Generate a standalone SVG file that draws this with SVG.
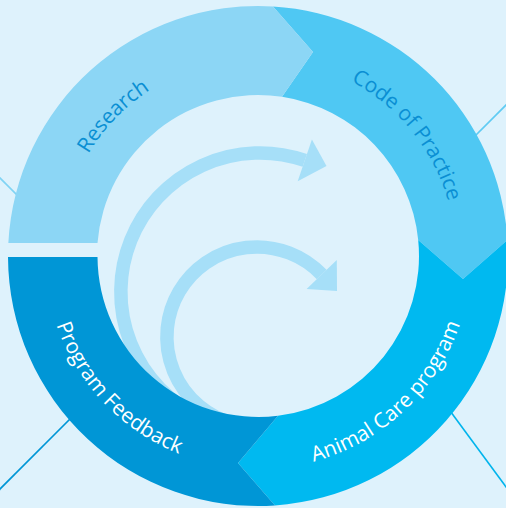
<svg xmlns="http://www.w3.org/2000/svg" width="506" height="508" viewBox="0 0 506 508">
  <style>
    .lbl { font-family: "Open Sans", "Noto Sans", "Liberation Sans", sans-serif; font-size: 21px; }
    .dark { fill: #0a8fd3; }
    .light { fill: #ffffff; }
    .arc { fill: none; stroke: #a6dff8; stroke-width: 13.5; }
    .head { fill: #a6dff8; }
    .ln { fill: none; stroke-width: 1.6; }
  </style>
  <defs>
    <path id="pResearch" d="M67.66,310.57 A198,198 0 0 1 305.90,63.88"/>
    <path id="pCode" d="M227.03,60.44 A198,198 0 0 1 442.85,326.96"/>
    <path id="pProgram" d="M53.78,195.51 A213,213 0 0 0 307.72,463.12"/>
    <path id="pAnimal" d="M196.78,460.01 A213,213 0 0 0 465.29,207.0"/>
  </defs>
  <rect x="0" y="0" width="506" height="508" fill="#def2fc"/>

  <g id="connectors">
    <line class="ln" x1="455" y1="156" x2="512" y2="99" stroke="#5fcbf3"/>
    <line class="ln" x1="-5" y1="173" x2="32" y2="210" stroke="#7fd3f4"/>
    <line class="ln" x1="-5" y1="494" x2="85" y2="404" stroke="#0096d6"/>
    <line class="ln" x1="440" y1="397.3" x2="512" y2="495" stroke="#00b4ec"/>
  </g>

  <g id="cycle-arrows">
    <path class="arc" d="M201.3,418 A139,139 0 0 1 304.8,160.4"/>
    <polygon class="head" points="311.9,139.6 326.5,166 297.7,181.2"/>
    <path class="arc" d="M233.7,423.9 A90,90 0 1 1 321.7,274.5"/>
    <polygon class="head" points="336.8,259.9 337,291 306.6,289.1"/>
  </g>

  <g id="code-of-practice">
    <path fill="#4fc8f3" d="M273,6.45 A250,250 0 0 1 507.5,240 L463,279 L418.2,240 A161,161 0 0 0 282,96.8 L313,52 Z"/>
    <text class="lbl dark"><textPath href="#pCode" startOffset="50%" text-anchor="middle">Code of Practice</textPath></text>
  </g>

  <g id="animal-care-program">
    <path fill="#00b9f0" d="M507.5,240 A250,250 0 0 1 275,505.4 L238,463 L278,415.75 A161,161 0 0 0 418.2,240 L463,279 Z"/>
    <text class="lbl light"><textPath href="#pAnimal" startOffset="50%" text-anchor="middle">Animal Care program</textPath></text>
  </g>

  <g id="program-feedback">
    <path fill="#0096d6" d="M275,505.4 L238,463 L278,415.75 A161,161 0 0 1 97.5,257 L8,257 A250,250 0 0 0 275,505.4 Z"/>
    <text class="lbl light"><textPath href="#pProgram" startOffset="50%" text-anchor="middle">Program Feedback</textPath></text>
  </g>

  <g id="research">
    <path fill="#8cd6f5" d="M8.34,243 A250,250 0 0 1 273,6.45 L313,52 L282,96.8 A161,161 0 0 0 97.5,243 Z"/>
    <text class="lbl dark"><textPath href="#pResearch" startOffset="50%" text-anchor="middle">Research</textPath></text>
  </g>
</svg>
